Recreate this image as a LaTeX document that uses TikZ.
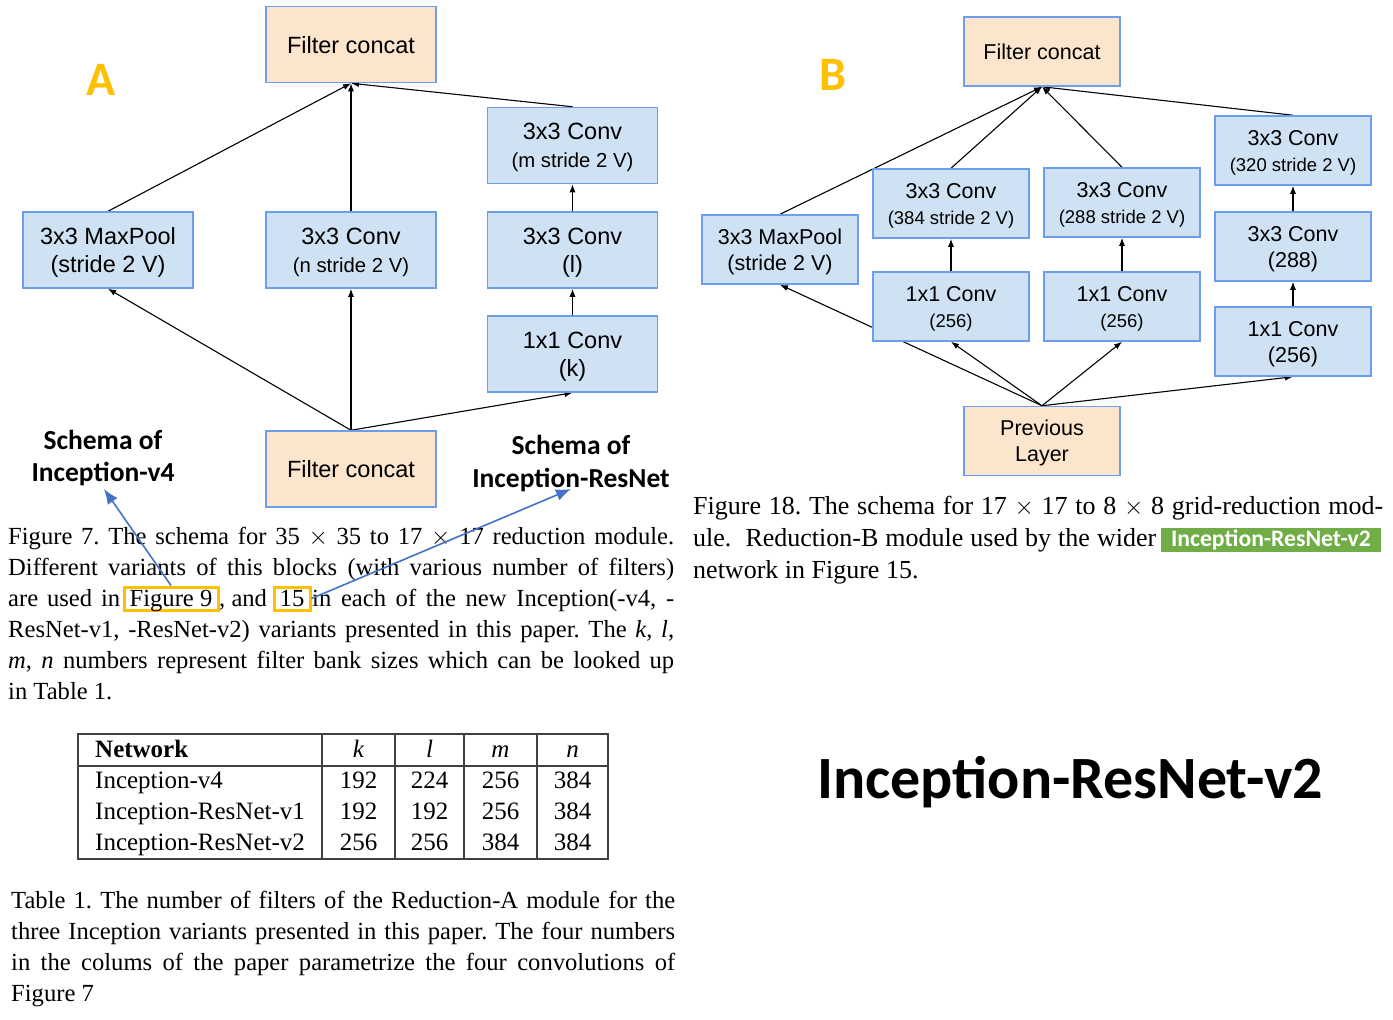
\documentclass[tikz,border=0pt]{standalone}
\usepackage{fontspec}
\setmainfont{Liberation Serif}
\newfontfamily\arialfont{Liberation Sans}
\newfontfamily\calibrifont{Carlito}
\usepackage{tikz}
\usetikzlibrary{arrows.meta,backgrounds}
\definecolor{box-blue}{HTML}{CFE2F3}
\definecolor{box-orange}{HTML}{FCE5CD}
\definecolor{box-edge}{HTML}{6D9EEB}
\definecolor{tag-yellow}{HTML}{FFC000}
\definecolor{tag-green}{HTML}{70AD47}
\definecolor{note-blue}{HTML}{4472C4}
\newcommand{\capfont}{\rmfamily\fontsize{24.6}{31}\selectfont\frenchspacing}
\newcommand{\capfontB}{\rmfamily\fontsize{26}{32}\selectfont\frenchspacing}
\newcommand{\smallA}{\fontsize{20.3}{28}\selectfont}
\newcommand{\smallB}{\fontsize{18.5}{25}\selectfont}
\newcommand{\jline}[2]{\makebox[#1pt][s]{#2}}
\tikzset{
  convA/.style={draw=box-edge, fill=box-blue, line width=1.5pt, minimum width=170pt, minimum height=76pt,
    inner sep=0pt, text depth=0pt, align=center, font=\arialfont\fontsize{23.5}{28}\selectfont},
  concatA/.style={convA, fill=box-orange},
  convB/.style={convA, minimum width=156pt, minimum height=69pt, font=\arialfont\fontsize{21.5}{26}\selectfont},
  concatB/.style={convB, fill=box-orange},
  link/.style={-{Latex[length=8pt,width=6pt]}, line width=1.1pt},
  pointer/.style={-{Latex[length=15pt,width=12pt]}, draw=note-blue, line width=1.6pt},
  capline/.style={anchor=base west, inner sep=0pt, font=\capfont},
  hlbox/.style={draw=tag-yellow, line width=3pt, inner sep=0pt, text height=19pt, text depth=4pt, anchor=base},
  schema/.style={align=center, inner sep=0pt, font=\calibrifont\bfseries\fontsize{27.5}{32.5}\selectfont},
  cell/.style={anchor=base, inner sep=0pt, font=\rmfamily\fontsize{25}{31}\selectfont},
  tablerule/.style={line width=1.3pt, draw=black!75}
}

\begin{document}
\begin{tikzpicture}[x=1pt, y=-1pt]
    \useasboundingbox (0,0) rectangle (1393,1020);
    \begin{scope}[on background layer]
        \fill[white] (0,0) rectangle (1393,1020);
    \end{scope}

    % module A
    \node[concatA] (concatOutA) at (351,44.5) {Filter concat};
    \node[convA] (poolA) at (108,250) {3x3 MaxPool\\(stride 2 V)};
    \node[convA] (convN) at (351,250) {3x3 Conv\\{\smallA (n stride 2 V)}};
    \node[convA] (conv3m) at (572.5,145.5) {3x3 Conv\\{\smallA (m stride 2 V)}};
    \node[convA] (conv3l) at (572.5,250) {3x3 Conv\\(l)};
    \node[convA] (conv1k) at (572.5,354) {1x1 Conv\\(k)};
    \node[concatA] (concatInA) at (351,469) {Filter concat};
    \node[font=\calibrifont\bfseries\fontsize{48}{48}\selectfont, text=tag-yellow] (labelA) at (101,80) {A};

    % module B
    \node[concatB] (concatOutB) at (1042,51.5) {Filter concat};
    \node[convB] (poolB) at (780,249.5) {3x3 MaxPool\\(stride 2 V)};
    \node[convB] (b3x3a) at (951,203.5) {3x3 Conv\\{\smallB (384 stride 2 V)}};
    \node[convB] (b3x3b) at (1122,202.5) {3x3 Conv\\{\smallB (288 stride 2 V)}};
    \node[convB] (b3x3d) at (1293,150.5) {3x3 Conv\\{\smallB (320 stride 2 V)}};
    \node[convB] (b1x1a) at (951,306.5) {1x1 Conv\\{\smallB (256)}};
    \node[convB] (b1x1b) at (1122,306.5) {1x1 Conv\\{\smallB (256)}};
    \node[convB] (b3x3c) at (1293,246.5) {3x3 Conv\\(288)};
    \node[convB] (b1x1c) at (1293,341.5) {1x1 Conv\\(256)};
    \node[concatB] (prevB) at (1042,441) {Previous\\Layer};
    \node[font=\calibrifont\bfseries\fontsize{48}{48}\selectfont, text=tag-yellow] (labelB) at (833,75) {B};

    \begin{scope}[on background layer]
        \draw[link] (concatInA.north) -- (poolA.south);
        \draw[link] (concatInA.north) -- (convN.south);
        \draw[link] (concatInA.north) -- (conv1k.south);
        \draw[link] (conv1k.north) -- (conv3l.south);
        \draw[link] (conv3l.north) -- (conv3m.south);
        \draw[link] (poolA.north) -- (concatOutA.south);
        \draw[link] (convN.north) -- (concatOutA.south);
        \draw[link] (conv3m.north) -- (concatOutA.south);

        \draw[link] (prevB.north) -- (poolB.south);
        \draw[link] (prevB.north) -- (b1x1a.south);
        \draw[link] (prevB.north) -- (b1x1b.south);
        \draw[link] (prevB.north) -- (b1x1c.south);
        \draw[link] (b1x1a.north) -- (b3x3a.south);
        \draw[link] (b1x1b.north) -- (b3x3b.south);
        \draw[link] (b1x1c.north) -- (b3x3c.south);
        \draw[link] (b3x3c.north) -- (b3x3d.south);
        \draw[link] (poolB.north) -- (concatOutB.south);
        \draw[link] (b3x3a.north) -- (concatOutB.south);
        \draw[link] (b3x3b.north) -- (concatOutB.south);
        \draw[link] (b3x3d.north) -- (concatOutB.south);
    \end{scope}

    % notes
    \node[schema] (schemaV4) at (103,458) {Schema of\\Inception-v4};
    \node[schema] (schemaRes) at (571,463.5) {Schema of\\Inception-ResNet};
    \coordinate (tipV4) at (104,489);
    \coordinate (tipRes) at (571,489);

    % caption of figure 7
    \node[capline] (capA1) at (8,544) {\jline{666}{Figure 7. The schema for 35 $\times$ 35 to 17 $\times$ 17 reduction module.}};
    \node[capline] (capA2) at (8,575) {\jline{666}{Different variants of this blocks (with various number of filters)}};
    \node[capline] (capA3) at (8,606) {\jline{112}{are used in}};
    \node[hlbox, font=\capfont] (fig9) at (171,606) {\makebox[94pt]{Figure 9}};
    \node[capline] (capA3b) at (219,606) {, and};
    \node[hlbox, font=\capfont] (fig15) at (292,606) {\makebox[36pt]{15}};
    \node[capline] (capA3c) at (312,606) {\jline{362}{in each of the new Inception(-v4, -}};
    \node[capline] (capA4) at (8,637) {\jline{666}{ResNet-v1, -ResNet-v2) variants presented in this paper. The \textit{k}, \textit{l},}};
    \node[capline] (capA5) at (8,668) {\jline{666}{\textit{m}, \textit{n} numbers represent filter bank sizes which can be looked up}};
    \node[capline] (capA6) at (8,699) {in Table 1.};

    \draw[pointer] (fig9.north) -- (tipV4);
    \draw[pointer] (fig15.east) -- (tipRes);

    % caption of figure 18
    \node[capline, font=\capfontB] (capB1) at (693,514) {\jline{690}{Figure 18. The schema for 17 $\times$ 17 to 8 $\times$ 8 grid-reduction mod-}};
    \node[capline, font=\capfontB] (capB2) at (693,546) {\jline{463}{ule.\ \ Reduction-B module used by the wider}};
    \node[fill=tag-green, text=white, minimum width=220pt, minimum height=24pt, inner sep=0pt,
        font=\calibrifont\bfseries\fontsize{23.7}{24}\selectfont] (tagV2) at (1271,540) {Inception-ResNet-v2};
    \node[capline, font=\capfontB] (capB3) at (693,578) {network in Figure 15.};

    % table 1
    \draw[tablerule] (78,734) rectangle (608,859);
    \draw[tablerule] (78,766) -- (608,766);
    \foreach \x in {322,395,464,537}
        \draw[tablerule] (\x,734) -- (\x,859);
    \node[cell, anchor=base west] (hdNet) at (95,757) {\textbf{Network}};
    \node[cell] (hdK) at (358.5,757) {\textit{k}};
    \node[cell] (hdL) at (429.5,757) {\textit{l}};
    \node[cell] (hdM) at (500.5,757) {\textit{m}};
    \node[cell] (hdN) at (572.5,757) {\textit{n}};
    \foreach \yy/\net/\vk/\vl/\vm/\vn [count=\r] in {788/Inception-v4/192/224/256/384,
        819/Inception-ResNet-v1/192/192/256/384, 850/Inception-ResNet-v2/256/256/384/384} {
        \node[cell, anchor=base west] (net\r) at (95,\yy) {\net};
        \node[cell] (k\r) at (358.5,\yy) {\vk};
        \node[cell] (l\r) at (429.5,\yy) {\vl};
        \node[cell] (m\r) at (500.5,\yy) {\vm};
        \node[cell] (n\r) at (572.5,\yy) {\vn};
    }

    % caption of table 1
    \node[capline] (capT1) at (11,908) {\jline{664}{Table 1. The number of filters of the Reduction-A module for the}};
    \node[capline] (capT2) at (11,939) {\jline{664}{three Inception variants presented in this paper. The four numbers}};
    \node[capline] (capT3) at (11,970) {\jline{664}{in the colums of the paper parametrize the four convolutions of}};
    \node[capline] (capT4) at (11,1001) {Figure 7};

    \node[font=\calibrifont\bfseries\fontsize{60}{60}\selectfont] (titleV2) at (1070,782) {Inception-ResNet-v2};
\end{tikzpicture}
\end{document}
